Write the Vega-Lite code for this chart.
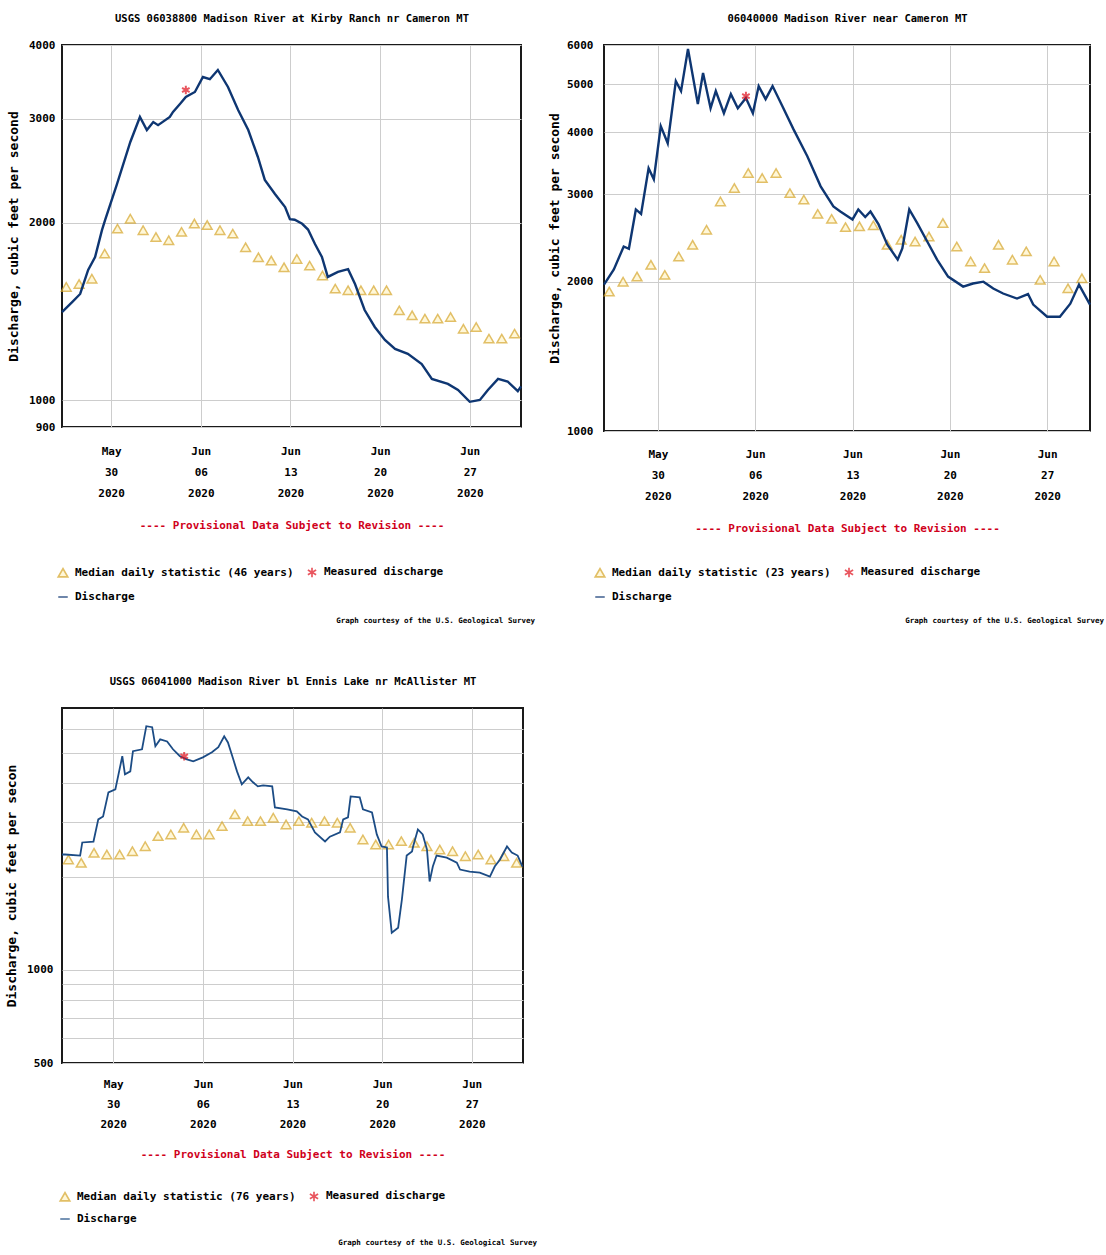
{
"$schema": "https://vega.github.io/schema/vega-lite/v6.json",
"background": "white",
"padding": {"left": 4, "top": 12, "right": 4, "bottom": 4},
"config": {
  "font": "DejaVu Sans Mono",
  "view": {"stroke": "#1a1a1a", "strokeWidth": 2},
  "axis": {"labelFont": "DejaVu Sans Mono", "labelFontWeight": "bold", "labelFontSize": 11, "labelColor": "black", "titleFont": "DejaVu Sans Mono", "titleFontWeight": "bold", "titleColor": "black", "ticks": false, "domain": false, "gridColor": "#cdcdcd", "gridWidth": 1},
  "legend": {"labelFont": "DejaVu Sans Mono", "labelFontWeight": "bold", "labelFontSize": 11, "labelColor": "black", "labelLimit": 400}
},
"resolve": {"scale": {"color": "independent", "shape": "independent"}, "legend": {"color": "independent", "shape": "independent"}},
"datasets": {
  "p1": [
    {"date": "2020-05-26T04:00", "value": 1410, "series": "Discharge"},
    {"date": "2020-05-26T23:00", "value": 1466, "series": "Discharge"},
    {"date": "2020-05-27T14:00", "value": 1513, "series": "Discharge"},
    {"date": "2020-05-28T05:00", "value": 1662, "series": "Discharge"},
    {"date": "2020-05-28T18:00", "value": 1748, "series": "Discharge"},
    {"date": "2020-05-29T07:00", "value": 1943, "series": "Discharge"},
    {"date": "2020-05-29T13:00", "value": 2022, "series": "Discharge"},
    {"date": "2020-05-30T11:00", "value": 2324, "series": "Discharge"},
    {"date": "2020-05-31T12:00", "value": 2739, "series": "Discharge"},
    {"date": "2020-06-01T06:00", "value": 3020, "series": "Discharge"},
    {"date": "2020-06-01T19:00", "value": 2870, "series": "Discharge"},
    {"date": "2020-06-02T07:00", "value": 2960, "series": "Discharge"},
    {"date": "2020-06-02T16:00", "value": 2925, "series": "Discharge"},
    {"date": "2020-06-03T14:00", "value": 3020, "series": "Discharge"},
    {"date": "2020-06-03T20:00", "value": 3080, "series": "Discharge"},
    {"date": "2020-06-04T09:00", "value": 3177, "series": "Discharge"},
    {"date": "2020-06-04T20:00", "value": 3265, "series": "Discharge"},
    {"date": "2020-06-05T13:00", "value": 3330, "series": "Discharge"},
    {"date": "2020-06-06T04:00", "value": 3530, "series": "Discharge"},
    {"date": "2020-06-06T17:00", "value": 3500, "series": "Discharge"},
    {"date": "2020-06-07T08:00", "value": 3628, "series": "Discharge"},
    {"date": "2020-06-08T03:00", "value": 3395, "series": "Discharge"},
    {"date": "2020-06-08T22:00", "value": 3103, "series": "Discharge"},
    {"date": "2020-06-09T17:00", "value": 2870, "series": "Discharge"},
    {"date": "2020-06-10T11:00", "value": 2583, "series": "Discharge"},
    {"date": "2020-06-11T00:00", "value": 2362, "series": "Discharge"},
    {"date": "2020-06-11T19:00", "value": 2236, "series": "Discharge"},
    {"date": "2020-06-12T14:00", "value": 2125, "series": "Discharge"},
    {"date": "2020-06-12T23:00", "value": 2027, "series": "Discharge"},
    {"date": "2020-06-13T08:00", "value": 2022, "series": "Discharge"},
    {"date": "2020-06-13T22:00", "value": 1990, "series": "Discharge"},
    {"date": "2020-06-14T09:00", "value": 1946, "series": "Discharge"},
    {"date": "2020-06-14T22:00", "value": 1839, "series": "Discharge"},
    {"date": "2020-06-15T11:00", "value": 1748, "series": "Discharge"},
    {"date": "2020-06-15T22:00", "value": 1617, "series": "Discharge"},
    {"date": "2020-06-16T17:00", "value": 1649, "series": "Discharge"},
    {"date": "2020-06-17T12:00", "value": 1667, "series": "Discharge"},
    {"date": "2020-06-18T01:00", "value": 1573, "series": "Discharge"},
    {"date": "2020-06-18T19:00", "value": 1421, "series": "Discharge"},
    {"date": "2020-06-19T14:00", "value": 1330, "series": "Discharge"},
    {"date": "2020-06-20T09:00", "value": 1264, "series": "Discharge"},
    {"date": "2020-06-21T04:00", "value": 1221, "series": "Discharge"},
    {"date": "2020-06-22T04:00", "value": 1198, "series": "Discharge"},
    {"date": "2020-06-23T06:00", "value": 1151, "series": "Discharge"},
    {"date": "2020-06-24T01:00", "value": 1086, "series": "Discharge"},
    {"date": "2020-06-25T07:00", "value": 1065, "series": "Discharge"},
    {"date": "2020-06-26T02:00", "value": 1040, "series": "Discharge"},
    {"date": "2020-06-27T00:00", "value": 993, "series": "Discharge"},
    {"date": "2020-06-27T19:00", "value": 1000, "series": "Discharge"},
    {"date": "2020-06-28T10:00", "value": 1040, "series": "Discharge"},
    {"date": "2020-06-29T05:00", "value": 1086, "series": "Discharge"},
    {"date": "2020-06-29T23:00", "value": 1075, "series": "Discharge"},
    {"date": "2020-06-30T18:00", "value": 1035, "series": "Discharge"},
    {"date": "2020-07-01T00:00", "value": 1055, "series": "Discharge"},
    {"date": "2020-06-04T20:00", "value": 3356, "series": "Measured discharge"},
    {"date": "2020-05-26T12:00", "value": 1555, "series": "Median daily statistic (46 years)"},
    {"date": "2020-05-27T12:00", "value": 1573, "series": "Median daily statistic (46 years)"},
    {"date": "2020-05-28T12:00", "value": 1606, "series": "Median daily statistic (46 years)"},
    {"date": "2020-05-29T12:00", "value": 1771, "series": "Median daily statistic (46 years)"},
    {"date": "2020-05-30T12:00", "value": 1953, "series": "Median daily statistic (46 years)"},
    {"date": "2020-05-31T12:00", "value": 2030, "series": "Median daily statistic (46 years)"},
    {"date": "2020-06-01T12:00", "value": 1941, "series": "Median daily statistic (46 years)"},
    {"date": "2020-06-02T12:00", "value": 1890, "series": "Median daily statistic (46 years)"},
    {"date": "2020-06-03T12:00", "value": 1866, "series": "Median daily statistic (46 years)"},
    {"date": "2020-06-04T12:00", "value": 1928, "series": "Median daily statistic (46 years)"},
    {"date": "2020-06-05T12:00", "value": 1992, "series": "Median daily statistic (46 years)"},
    {"date": "2020-06-06T12:00", "value": 1980, "series": "Median daily statistic (46 years)"},
    {"date": "2020-06-07T12:00", "value": 1941, "series": "Median daily statistic (46 years)"},
    {"date": "2020-06-08T12:00", "value": 1915, "series": "Median daily statistic (46 years)"},
    {"date": "2020-06-09T12:00", "value": 1816, "series": "Median daily statistic (46 years)"},
    {"date": "2020-06-10T12:00", "value": 1746, "series": "Median daily statistic (46 years)"},
    {"date": "2020-06-11T12:00", "value": 1724, "series": "Median daily statistic (46 years)"},
    {"date": "2020-06-12T12:00", "value": 1679, "series": "Median daily statistic (46 years)"},
    {"date": "2020-06-13T12:00", "value": 1735, "series": "Median daily statistic (46 years)"},
    {"date": "2020-06-14T12:00", "value": 1690, "series": "Median daily statistic (46 years)"},
    {"date": "2020-06-15T12:00", "value": 1626, "series": "Median daily statistic (46 years)"},
    {"date": "2020-06-16T12:00", "value": 1545, "series": "Median daily statistic (46 years)"},
    {"date": "2020-06-17T12:00", "value": 1535, "series": "Median daily statistic (46 years)"},
    {"date": "2020-06-18T12:00", "value": 1535, "series": "Median daily statistic (46 years)"},
    {"date": "2020-06-19T12:00", "value": 1535, "series": "Median daily statistic (46 years)"},
    {"date": "2020-06-20T12:00", "value": 1535, "series": "Median daily statistic (46 years)"},
    {"date": "2020-06-21T12:00", "value": 1419, "series": "Median daily statistic (46 years)"},
    {"date": "2020-06-22T12:00", "value": 1392, "series": "Median daily statistic (46 years)"},
    {"date": "2020-06-23T12:00", "value": 1374, "series": "Median daily statistic (46 years)"},
    {"date": "2020-06-24T12:00", "value": 1374, "series": "Median daily statistic (46 years)"},
    {"date": "2020-06-25T12:00", "value": 1383, "series": "Median daily statistic (46 years)"},
    {"date": "2020-06-26T12:00", "value": 1321, "series": "Median daily statistic (46 years)"},
    {"date": "2020-06-27T12:00", "value": 1330, "series": "Median daily statistic (46 years)"},
    {"date": "2020-06-28T12:00", "value": 1271, "series": "Median daily statistic (46 years)"},
    {"date": "2020-06-29T12:00", "value": 1271, "series": "Median daily statistic (46 years)"},
    {"date": "2020-06-30T12:00", "value": 1296, "series": "Median daily statistic (46 years)"}
  ],
  "p2": [
    {"date": "2020-05-26T03:00", "value": 1973, "series": "Discharge"},
    {"date": "2020-05-26T20:00", "value": 2116, "series": "Discharge"},
    {"date": "2020-05-27T13:00", "value": 2355, "series": "Discharge"},
    {"date": "2020-05-27T22:00", "value": 2330, "series": "Discharge"},
    {"date": "2020-05-28T10:00", "value": 2797, "series": "Discharge"},
    {"date": "2020-05-28T19:00", "value": 2740, "series": "Discharge"},
    {"date": "2020-05-29T08:00", "value": 3385, "series": "Discharge"},
    {"date": "2020-05-29T17:00", "value": 3217, "series": "Discharge"},
    {"date": "2020-05-30T05:00", "value": 4117, "series": "Discharge"},
    {"date": "2020-05-30T17:00", "value": 3803, "series": "Discharge"},
    {"date": "2020-05-31T07:00", "value": 5075, "series": "Discharge"},
    {"date": "2020-05-31T16:00", "value": 4844, "series": "Discharge"},
    {"date": "2020-06-01T04:00", "value": 5890, "series": "Discharge"},
    {"date": "2020-06-01T21:00", "value": 4560, "series": "Discharge"},
    {"date": "2020-06-02T06:00", "value": 5268, "series": "Discharge"},
    {"date": "2020-06-02T19:00", "value": 4475, "series": "Discharge"},
    {"date": "2020-06-03T04:00", "value": 4844, "series": "Discharge"},
    {"date": "2020-06-03T18:00", "value": 4372, "series": "Discharge"},
    {"date": "2020-06-04T06:00", "value": 4777, "series": "Discharge"},
    {"date": "2020-06-04T18:00", "value": 4475, "series": "Discharge"},
    {"date": "2020-06-05T08:00", "value": 4689, "series": "Discharge"},
    {"date": "2020-06-05T20:00", "value": 4372, "series": "Discharge"},
    {"date": "2020-06-06T06:00", "value": 4958, "series": "Discharge"},
    {"date": "2020-06-06T18:00", "value": 4666, "series": "Discharge"},
    {"date": "2020-06-07T06:00", "value": 4958, "series": "Discharge"},
    {"date": "2020-06-07T23:00", "value": 4517, "series": "Discharge"},
    {"date": "2020-06-08T18:00", "value": 4060, "series": "Discharge"},
    {"date": "2020-06-09T18:00", "value": 3580, "series": "Discharge"},
    {"date": "2020-06-10T17:00", "value": 3113, "series": "Discharge"},
    {"date": "2020-06-11T15:00", "value": 2836, "series": "Discharge"},
    {"date": "2020-06-12T03:00", "value": 2770, "series": "Discharge"},
    {"date": "2020-06-13T00:00", "value": 2670, "series": "Discharge"},
    {"date": "2020-06-13T10:00", "value": 2797, "series": "Discharge"},
    {"date": "2020-06-13T22:00", "value": 2700, "series": "Discharge"},
    {"date": "2020-06-14T07:00", "value": 2770, "series": "Discharge"},
    {"date": "2020-06-14T21:00", "value": 2609, "series": "Discharge"},
    {"date": "2020-06-15T12:00", "value": 2377, "series": "Discharge"},
    {"date": "2020-06-16T06:00", "value": 2216, "series": "Discharge"},
    {"date": "2020-06-16T14:00", "value": 2333, "series": "Discharge"},
    {"date": "2020-06-17T02:00", "value": 2797, "series": "Discharge"},
    {"date": "2020-06-17T16:00", "value": 2621, "series": "Discharge"},
    {"date": "2020-06-18T09:00", "value": 2410, "series": "Discharge"},
    {"date": "2020-06-19T02:00", "value": 2216, "series": "Discharge"},
    {"date": "2020-06-19T21:00", "value": 2048, "series": "Discharge"},
    {"date": "2020-06-20T23:00", "value": 1955, "series": "Discharge"},
    {"date": "2020-06-21T16:00", "value": 1983, "series": "Discharge"},
    {"date": "2020-06-22T10:00", "value": 2000, "series": "Discharge"},
    {"date": "2020-06-23T03:00", "value": 1937, "series": "Discharge"},
    {"date": "2020-06-23T20:00", "value": 1893, "series": "Discharge"},
    {"date": "2020-06-24T20:00", "value": 1849, "series": "Discharge"},
    {"date": "2020-06-25T15:00", "value": 1888, "series": "Discharge"},
    {"date": "2020-06-26T00:00", "value": 1798, "series": "Discharge"},
    {"date": "2020-06-27T00:00", "value": 1700, "series": "Discharge"},
    {"date": "2020-06-27T22:00", "value": 1700, "series": "Discharge"},
    {"date": "2020-06-28T16:00", "value": 1806, "series": "Discharge"},
    {"date": "2020-06-29T07:00", "value": 1973, "series": "Discharge"},
    {"date": "2020-06-30T02:00", "value": 1798, "series": "Discharge"},
    {"date": "2020-06-05T08:00", "value": 4732, "series": "Measured discharge"},
    {"date": "2020-05-26T12:00", "value": 1910, "series": "Median daily statistic (23 years)"},
    {"date": "2020-05-27T12:00", "value": 2000, "series": "Median daily statistic (23 years)"},
    {"date": "2020-05-28T12:00", "value": 2048, "series": "Median daily statistic (23 years)"},
    {"date": "2020-05-29T12:00", "value": 2163, "series": "Median daily statistic (23 years)"},
    {"date": "2020-05-30T12:00", "value": 2064, "series": "Median daily statistic (23 years)"},
    {"date": "2020-05-31T12:00", "value": 2247, "series": "Median daily statistic (23 years)"},
    {"date": "2020-06-01T12:00", "value": 2373, "series": "Median daily statistic (23 years)"},
    {"date": "2020-06-02T12:00", "value": 2545, "series": "Median daily statistic (23 years)"},
    {"date": "2020-06-03T12:00", "value": 2903, "series": "Median daily statistic (23 years)"},
    {"date": "2020-06-04T12:00", "value": 3089, "series": "Median daily statistic (23 years)"},
    {"date": "2020-06-05T12:00", "value": 3312, "series": "Median daily statistic (23 years)"},
    {"date": "2020-06-06T12:00", "value": 3236, "series": "Median daily statistic (23 years)"},
    {"date": "2020-06-07T12:00", "value": 3312, "series": "Median daily statistic (23 years)"},
    {"date": "2020-06-08T12:00", "value": 3017, "series": "Median daily statistic (23 years)"},
    {"date": "2020-06-09T12:00", "value": 2927, "series": "Median daily statistic (23 years)"},
    {"date": "2020-06-10T12:00", "value": 2740, "series": "Median daily statistic (23 years)"},
    {"date": "2020-06-11T12:00", "value": 2677, "series": "Median daily statistic (23 years)"},
    {"date": "2020-06-12T12:00", "value": 2576, "series": "Median daily statistic (23 years)"},
    {"date": "2020-06-13T12:00", "value": 2586, "series": "Median daily statistic (23 years)"},
    {"date": "2020-06-14T12:00", "value": 2597, "series": "Median daily statistic (23 years)"},
    {"date": "2020-06-15T12:00", "value": 2373, "series": "Median daily statistic (23 years)"},
    {"date": "2020-06-16T12:00", "value": 2429, "series": "Median daily statistic (23 years)"},
    {"date": "2020-06-17T12:00", "value": 2410, "series": "Median daily statistic (23 years)"},
    {"date": "2020-06-18T12:00", "value": 2466, "series": "Median daily statistic (23 years)"},
    {"date": "2020-06-19T12:00", "value": 2625, "series": "Median daily statistic (23 years)"},
    {"date": "2020-06-20T12:00", "value": 2355, "series": "Median daily statistic (23 years)"},
    {"date": "2020-06-21T12:00", "value": 2197, "series": "Median daily statistic (23 years)"},
    {"date": "2020-06-22T12:00", "value": 2130, "series": "Median daily statistic (23 years)"},
    {"date": "2020-06-23T12:00", "value": 2373, "series": "Median daily statistic (23 years)"},
    {"date": "2020-06-24T12:00", "value": 2215, "series": "Median daily statistic (23 years)"},
    {"date": "2020-06-25T12:00", "value": 2302, "series": "Median daily statistic (23 years)"},
    {"date": "2020-06-26T12:00", "value": 2017, "series": "Median daily statistic (23 years)"},
    {"date": "2020-06-27T12:00", "value": 2197, "series": "Median daily statistic (23 years)"},
    {"date": "2020-06-28T12:00", "value": 1940, "series": "Median daily statistic (23 years)"},
    {"date": "2020-06-29T12:00", "value": 2032, "series": "Median daily statistic (23 years)"}
  ],
  "p3": [
    {"date": "2020-05-26T00:00", "value": 2356, "series": "Discharge"},
    {"date": "2020-05-26T06:00", "value": 2356, "series": "Discharge"},
    {"date": "2020-05-27T10:00", "value": 2337, "series": "Discharge"},
    {"date": "2020-05-27T14:00", "value": 2576, "series": "Discharge"},
    {"date": "2020-05-28T11:00", "value": 2594, "series": "Discharge"},
    {"date": "2020-05-28T20:00", "value": 3058, "series": "Discharge"},
    {"date": "2020-05-29T05:00", "value": 3125, "series": "Discharge"},
    {"date": "2020-05-29T15:00", "value": 3739, "series": "Discharge"},
    {"date": "2020-05-30T04:00", "value": 3823, "series": "Discharge"},
    {"date": "2020-05-30T17:00", "value": 4890, "series": "Discharge"},
    {"date": "2020-05-30T22:00", "value": 4276, "series": "Discharge"},
    {"date": "2020-05-31T08:00", "value": 4370, "series": "Discharge"},
    {"date": "2020-05-31T13:00", "value": 5076, "series": "Discharge"},
    {"date": "2020-06-01T06:00", "value": 5150, "series": "Discharge"},
    {"date": "2020-06-01T14:00", "value": 6114, "series": "Discharge"},
    {"date": "2020-06-02T01:00", "value": 6070, "series": "Discharge"},
    {"date": "2020-06-02T07:00", "value": 5270, "series": "Discharge"},
    {"date": "2020-06-02T16:00", "value": 5544, "series": "Discharge"},
    {"date": "2020-06-03T05:00", "value": 5460, "series": "Discharge"},
    {"date": "2020-06-03T16:00", "value": 5150, "series": "Discharge"},
    {"date": "2020-06-04T05:00", "value": 4890, "series": "Discharge"},
    {"date": "2020-06-04T18:00", "value": 4780, "series": "Discharge"},
    {"date": "2020-06-05T06:00", "value": 4710, "series": "Discharge"},
    {"date": "2020-06-06T00:00", "value": 4850, "series": "Discharge"},
    {"date": "2020-06-06T17:00", "value": 5035, "series": "Discharge"},
    {"date": "2020-06-07T05:00", "value": 5230, "series": "Discharge"},
    {"date": "2020-06-07T16:00", "value": 5675, "series": "Discharge"},
    {"date": "2020-06-07T23:00", "value": 5420, "series": "Discharge"},
    {"date": "2020-06-08T09:00", "value": 4780, "series": "Discharge"},
    {"date": "2020-06-08T16:00", "value": 4370, "series": "Discharge"},
    {"date": "2020-06-09T01:00", "value": 3970, "series": "Discharge"},
    {"date": "2020-06-09T13:00", "value": 4180, "series": "Discharge"},
    {"date": "2020-06-09T22:00", "value": 4030, "series": "Discharge"},
    {"date": "2020-06-10T07:00", "value": 3910, "series": "Discharge"},
    {"date": "2020-06-10T17:00", "value": 3940, "series": "Discharge"},
    {"date": "2020-06-11T10:00", "value": 3910, "series": "Discharge"},
    {"date": "2020-06-11T15:00", "value": 3344, "series": "Discharge"},
    {"date": "2020-06-12T14:00", "value": 3296, "series": "Discharge"},
    {"date": "2020-06-13T08:00", "value": 3247, "series": "Discharge"},
    {"date": "2020-06-13T18:00", "value": 3125, "series": "Discharge"},
    {"date": "2020-06-14T05:00", "value": 3058, "series": "Discharge"},
    {"date": "2020-06-14T18:00", "value": 2776, "series": "Discharge"},
    {"date": "2020-06-15T13:00", "value": 2596, "series": "Discharge"},
    {"date": "2020-06-15T22:00", "value": 2690, "series": "Discharge"},
    {"date": "2020-06-16T17:00", "value": 2776, "series": "Discharge"},
    {"date": "2020-06-16T23:00", "value": 3058, "series": "Discharge"},
    {"date": "2020-06-17T08:00", "value": 3106, "series": "Discharge"},
    {"date": "2020-06-17T13:00", "value": 3629, "series": "Discharge"},
    {"date": "2020-06-18T06:00", "value": 3602, "series": "Discharge"},
    {"date": "2020-06-18T12:00", "value": 3296, "series": "Discharge"},
    {"date": "2020-06-19T05:00", "value": 3219, "series": "Discharge"},
    {"date": "2020-06-19T14:00", "value": 2735, "series": "Discharge"},
    {"date": "2020-06-19T23:00", "value": 2500, "series": "Discharge"},
    {"date": "2020-06-20T09:00", "value": 2482, "series": "Discharge"},
    {"date": "2020-06-20T11:00", "value": 1722, "series": "Discharge"},
    {"date": "2020-06-20T18:00", "value": 1317, "series": "Discharge"},
    {"date": "2020-06-21T06:00", "value": 1367, "series": "Discharge"},
    {"date": "2020-06-21T13:00", "value": 1685, "series": "Discharge"},
    {"date": "2020-06-21T22:00", "value": 2337, "series": "Discharge"},
    {"date": "2020-06-22T08:00", "value": 2410, "series": "Discharge"},
    {"date": "2020-06-22T10:00", "value": 2500, "series": "Discharge"},
    {"date": "2020-06-22T19:00", "value": 2838, "series": "Discharge"},
    {"date": "2020-06-23T04:00", "value": 2735, "series": "Discharge"},
    {"date": "2020-06-23T12:00", "value": 2445, "series": "Discharge"},
    {"date": "2020-06-23T17:00", "value": 1927, "series": "Discharge"},
    {"date": "2020-06-23T23:00", "value": 2154, "series": "Discharge"},
    {"date": "2020-06-24T06:00", "value": 2337, "series": "Discharge"},
    {"date": "2020-06-25T01:00", "value": 2300, "series": "Discharge"},
    {"date": "2020-06-25T20:00", "value": 2217, "series": "Discharge"},
    {"date": "2020-06-26T02:00", "value": 2106, "series": "Discharge"},
    {"date": "2020-06-26T20:00", "value": 2075, "series": "Discharge"},
    {"date": "2020-06-27T15:00", "value": 2060, "series": "Discharge"},
    {"date": "2020-06-28T10:00", "value": 2000, "series": "Discharge"},
    {"date": "2020-06-28T19:00", "value": 2154, "series": "Discharge"},
    {"date": "2020-06-29T05:00", "value": 2270, "series": "Discharge"},
    {"date": "2020-06-29T18:00", "value": 2500, "series": "Discharge"},
    {"date": "2020-06-30T03:00", "value": 2390, "series": "Discharge"},
    {"date": "2020-06-30T14:00", "value": 2337, "series": "Discharge"},
    {"date": "2020-06-30T23:00", "value": 2154, "series": "Discharge"},
    {"date": "2020-06-04T13:00", "value": 4890, "series": "Measured discharge"},
    {"date": "2020-05-26T12:00", "value": 2270, "series": "Median daily statistic (76 years)"},
    {"date": "2020-05-27T12:00", "value": 2214, "series": "Median daily statistic (76 years)"},
    {"date": "2020-05-28T12:00", "value": 2386, "series": "Median daily statistic (76 years)"},
    {"date": "2020-05-29T12:00", "value": 2356, "series": "Median daily statistic (76 years)"},
    {"date": "2020-05-30T12:00", "value": 2356, "series": "Median daily statistic (76 years)"},
    {"date": "2020-05-31T12:00", "value": 2415, "series": "Median daily statistic (76 years)"},
    {"date": "2020-06-01T12:00", "value": 2506, "series": "Median daily statistic (76 years)"},
    {"date": "2020-06-02T12:00", "value": 2701, "series": "Median daily statistic (76 years)"},
    {"date": "2020-06-03T12:00", "value": 2735, "series": "Median daily statistic (76 years)"},
    {"date": "2020-06-04T12:00", "value": 2874, "series": "Median daily statistic (76 years)"},
    {"date": "2020-06-05T12:00", "value": 2735, "series": "Median daily statistic (76 years)"},
    {"date": "2020-06-06T12:00", "value": 2735, "series": "Median daily statistic (76 years)"},
    {"date": "2020-06-07T12:00", "value": 2909, "series": "Median daily statistic (76 years)"},
    {"date": "2020-06-08T12:00", "value": 3174, "series": "Median daily statistic (76 years)"},
    {"date": "2020-06-09T12:00", "value": 3019, "series": "Median daily statistic (76 years)"},
    {"date": "2020-06-10T12:00", "value": 3019, "series": "Median daily statistic (76 years)"},
    {"date": "2020-06-11T12:00", "value": 3097, "series": "Median daily statistic (76 years)"},
    {"date": "2020-06-12T12:00", "value": 2946, "series": "Median daily statistic (76 years)"},
    {"date": "2020-06-13T12:00", "value": 3019, "series": "Median daily statistic (76 years)"},
    {"date": "2020-06-14T12:00", "value": 2984, "series": "Median daily statistic (76 years)"},
    {"date": "2020-06-15T12:00", "value": 3019, "series": "Median daily statistic (76 years)"},
    {"date": "2020-06-16T12:00", "value": 2984, "series": "Median daily statistic (76 years)"},
    {"date": "2020-06-17T12:00", "value": 2874, "series": "Median daily statistic (76 years)"},
    {"date": "2020-06-18T12:00", "value": 2635, "series": "Median daily statistic (76 years)"},
    {"date": "2020-06-19T12:00", "value": 2538, "series": "Median daily statistic (76 years)"},
    {"date": "2020-06-20T12:00", "value": 2538, "series": "Median daily statistic (76 years)"},
    {"date": "2020-06-21T12:00", "value": 2602, "series": "Median daily statistic (76 years)"},
    {"date": "2020-06-22T12:00", "value": 2570, "series": "Median daily statistic (76 years)"},
    {"date": "2020-06-23T12:00", "value": 2506, "series": "Median daily statistic (76 years)"},
    {"date": "2020-06-24T12:00", "value": 2445, "series": "Median daily statistic (76 years)"},
    {"date": "2020-06-25T12:00", "value": 2415, "series": "Median daily statistic (76 years)"},
    {"date": "2020-06-26T12:00", "value": 2326, "series": "Median daily statistic (76 years)"},
    {"date": "2020-06-27T12:00", "value": 2356, "series": "Median daily statistic (76 years)"},
    {"date": "2020-06-28T12:00", "value": 2270, "series": "Median daily statistic (76 years)"},
    {"date": "2020-06-29T12:00", "value": 2326, "series": "Median daily statistic (76 years)"},
    {"date": "2020-06-30T12:00", "value": 2214, "series": "Median daily statistic (76 years)"}
  ]
},
"columns": 2,
"bounds": "flush",
"spacing": {"row": 277, "column": 81},
"concat": [
  {
    "width": 459, "height": 382,
    "data": {"name": "p1"},
    "title": {"text": "Graph courtesy of the U.S. Geological Survey", "orient": "bottom", "anchor": "end", "frame": "group", "font": "DejaVu Sans Mono", "fontSize": 7.5, "fontWeight": "bold", "color": "black", "offset": 15, "dx": 14},
    "layer": [
      {
        "transform": [{"filter": "datum.series == 'Median daily statistic (46 years)'"}],
        "mark": {"type": "point", "filled": false, "fill": "#fff4c8", "size": 95, "strokeWidth": 1.5},
        "encoding": {
          "x": {"field": "date", "type": "temporal", "scale": {"domain": [{"year": 2020, "month": 5, "date": 26, "hours": 4}, {"year": 2020, "month": 7, "date": 1}]}, "axis": {"orient": "top", "title": "USGS 06038800 Madison River at Kirby Ranch nr Cameron MT", "titleFontSize": 10.5, "titlePadding": 22, "labels": false, "grid": false}},
          "y": {"field": "value", "type": "quantitative", "scale": {"type": "log", "domain": [900, 4000], "nice": false}, "axis": {"values": [900, 1000, 2000, 3000, 4000], "format": "d", "labelPadding": 7, "title": "Discharge, cubic feet per second", "titleFontSize": 13, "titlePadding": 8, "grid": true}},
          "color": {"field": "series", "type": "nominal", "scale": {"domain": ["Median daily statistic (46 years)", "Measured discharge", "Discharge"], "range": ["#d6a526", "#e0101c", "#0e3672"]}, "legend": {"title": null, "orient": "none", "legendX": -5, "legendY": 521, "columns": 2, "columnPadding": 10, "rowPadding": 10, "symbolSize": 90, "symbolStrokeWidth": 1.7, "labelOffset": 6, "values": ["Median daily statistic (46 years)", "Discharge", "Measured discharge"]}},
          "shape": {"field": "series", "type": "nominal", "scale": {"domain": ["Median daily statistic (46 years)", "Measured discharge", "Discharge"], "range": ["triangle-up", "M0,-1L0,1M-0.87,-0.5L0.87,0.5M-0.87,0.5L0.87,-0.5", "stroke"]}}
        }
      },
      {
        "transform": [{"filter": "datum.series == 'Discharge'"}],
        "mark": {"type": "line", "strokeWidth": 2.4},
        "encoding": {
          "x": {"field": "date", "type": "temporal", "scale": {"domain": [{"year": 2020, "month": 5, "date": 26, "hours": 4}, {"year": 2020, "month": 7, "date": 1}]}, "axis": {"orient": "bottom", "values": [{"year": 2020, "month": 5, "date": 30}, {"year": 2020, "month": 6, "date": 6}, {"year": 2020, "month": 6, "date": 13}, {"year": 2020, "month": 6, "date": 20}, {"year": 2020, "month": 6, "date": 27}], "labelExpr": "[timeFormat(datum.value, '%b'), timeFormat(datum.value, '%d'), timeFormat(datum.value, '%Y')]", "labelLineHeight": 21, "labelPadding": 18, "labelOverlap": false, "labelAlign": "center", "title": "---- Provisional Data Subject to Revision ----", "titleColor": "#d0001b", "titleFontSize": 11, "titlePadding": 21, "grid": true}},
          "y": {"field": "value", "type": "quantitative", "scale": {"type": "log", "domain": [900, 4000], "nice": false}, "axis": {"values": [900, 1000, 2000, 3000, 4000], "format": "d", "labelPadding": 7, "title": "Discharge, cubic feet per second", "titleFontSize": 13, "titlePadding": 8, "grid": true}},
          "color": {"field": "series", "type": "nominal", "scale": {"domain": ["Median daily statistic (46 years)", "Measured discharge", "Discharge"], "range": ["#d6a526", "#e0101c", "#0e3672"]}}
        }
      },
      {
        "transform": [{"filter": "datum.series == 'Measured discharge'"}],
        "mark": {"type": "point", "filled": false, "size": 75, "strokeWidth": 2},
        "encoding": {
          "x": {"field": "date", "type": "temporal", "scale": {"domain": [{"year": 2020, "month": 5, "date": 26, "hours": 4}, {"year": 2020, "month": 7, "date": 1}]}, "axis": null},
          "y": {"field": "value", "type": "quantitative", "scale": {"type": "log", "domain": [900, 4000], "nice": false}, "axis": {"values": [900, 1000, 2000, 3000, 4000], "format": "d", "labelPadding": 7, "title": "Discharge, cubic feet per second", "titleFontSize": 13, "titlePadding": 8, "grid": true}},
          "color": {"field": "series", "type": "nominal", "scale": {"domain": ["Median daily statistic (46 years)", "Measured discharge", "Discharge"], "range": ["#d6a526", "#e0101c", "#0e3672"]}},
          "shape": {"field": "series", "type": "nominal", "scale": {"domain": ["Median daily statistic (46 years)", "Measured discharge", "Discharge"], "range": ["triangle-up", "M0,-1L0,1M-0.87,-0.5L0.87,0.5M-0.87,0.5L0.87,-0.5", "stroke"]}}
        }
      }
    ],
    "resolve": {"axis": {"x": "independent"}}
  },
  {
    "width": 486, "height": 386,
    "data": {"name": "p2"},
    "title": {"text": "Graph courtesy of the U.S. Geological Survey", "orient": "bottom", "anchor": "end", "frame": "group", "font": "DejaVu Sans Mono", "fontSize": 7.5, "fontWeight": "bold", "color": "black", "offset": 15, "dx": 14},
    "layer": [
      {
        "transform": [{"filter": "datum.series == 'Median daily statistic (23 years)'"}],
        "mark": {"type": "point", "filled": false, "fill": "#fff4c8", "size": 95, "strokeWidth": 1.5},
        "encoding": {
          "x": {"field": "date", "type": "temporal", "scale": {"domain": [{"year": 2020, "month": 5, "date": 26, "hours": 3}, {"year": 2020, "month": 6, "date": 30, "hours": 2}]}, "axis": {"orient": "top", "title": "06040000 Madison River near Cameron MT", "titleFontSize": 10.5, "titlePadding": 22, "labels": false, "grid": false}},
          "y": {"field": "value", "type": "quantitative", "scale": {"type": "log", "domain": [1000, 6000], "nice": false}, "axis": {"values": [1000, 2000, 3000, 4000, 5000, 6000], "format": "d", "labelPadding": 11, "title": "Discharge, cubic feet per second", "titleFontSize": 13, "titlePadding": 5, "grid": true}},
          "color": {"field": "series", "type": "nominal", "scale": {"domain": ["Median daily statistic (23 years)", "Measured discharge", "Discharge"], "range": ["#d6a526", "#e0101c", "#0e3672"]}, "legend": {"title": null, "orient": "none", "legendX": -10, "legendY": 521, "columns": 2, "columnPadding": 10, "rowPadding": 10, "symbolSize": 90, "symbolStrokeWidth": 1.7, "labelOffset": 6, "values": ["Median daily statistic (23 years)", "Discharge", "Measured discharge"]}},
          "shape": {"field": "series", "type": "nominal", "scale": {"domain": ["Median daily statistic (23 years)", "Measured discharge", "Discharge"], "range": ["triangle-up", "M0,-1L0,1M-0.87,-0.5L0.87,0.5M-0.87,0.5L0.87,-0.5", "stroke"]}}
        }
      },
      {
        "transform": [{"filter": "datum.series == 'Discharge'"}],
        "mark": {"type": "line", "strokeWidth": 2.4},
        "encoding": {
          "x": {"field": "date", "type": "temporal", "scale": {"domain": [{"year": 2020, "month": 5, "date": 26, "hours": 3}, {"year": 2020, "month": 6, "date": 30, "hours": 2}]}, "axis": {"orient": "bottom", "values": [{"year": 2020, "month": 5, "date": 30}, {"year": 2020, "month": 6, "date": 6}, {"year": 2020, "month": 6, "date": 13}, {"year": 2020, "month": 6, "date": 20}, {"year": 2020, "month": 6, "date": 27}], "labelExpr": "[timeFormat(datum.value, '%b'), timeFormat(datum.value, '%d'), timeFormat(datum.value, '%Y')]", "labelLineHeight": 21, "labelPadding": 17, "labelOverlap": false, "labelAlign": "center", "title": "---- Provisional Data Subject to Revision ----", "titleColor": "#d0001b", "titleFontSize": 11, "titlePadding": 21, "grid": true}},
          "y": {"field": "value", "type": "quantitative", "scale": {"type": "log", "domain": [1000, 6000], "nice": false}, "axis": {"values": [1000, 2000, 3000, 4000, 5000, 6000], "format": "d", "labelPadding": 11, "title": "Discharge, cubic feet per second", "titleFontSize": 13, "titlePadding": 5, "grid": true}},
          "color": {"field": "series", "type": "nominal", "scale": {"domain": ["Median daily statistic (23 years)", "Measured discharge", "Discharge"], "range": ["#d6a526", "#e0101c", "#0e3672"]}}
        }
      },
      {
        "transform": [{"filter": "datum.series == 'Measured discharge'"}],
        "mark": {"type": "point", "filled": false, "size": 75, "strokeWidth": 2},
        "encoding": {
          "x": {"field": "date", "type": "temporal", "scale": {"domain": [{"year": 2020, "month": 5, "date": 26, "hours": 3}, {"year": 2020, "month": 6, "date": 30, "hours": 2}]}, "axis": null},
          "y": {"field": "value", "type": "quantitative", "scale": {"type": "log", "domain": [1000, 6000], "nice": false}, "axis": {"values": [1000, 2000, 3000, 4000, 5000, 6000], "format": "d", "labelPadding": 11, "title": "Discharge, cubic feet per second", "titleFontSize": 13, "titlePadding": 5, "grid": true}},
          "color": {"field": "series", "type": "nominal", "scale": {"domain": ["Median daily statistic (23 years)", "Measured discharge", "Discharge"], "range": ["#d6a526", "#e0101c", "#0e3672"]}},
          "shape": {"field": "series", "type": "nominal", "scale": {"domain": ["Median daily statistic (23 years)", "Measured discharge", "Discharge"], "range": ["triangle-up", "M0,-1L0,1M-0.87,-0.5L0.87,0.5M-0.87,0.5L0.87,-0.5", "stroke"]}}
        }
      }
    ],
    "resolve": {"axis": {"x": "independent"}}
  },
  {
    "width": 461, "height": 355,
    "data": {"name": "p3"},
    "title": {"text": "Graph courtesy of the U.S. Geological Survey", "orient": "bottom", "anchor": "end", "frame": "group", "font": "DejaVu Sans Mono", "fontSize": 7.5, "fontWeight": "bold", "color": "black", "offset": 15, "dx": 14},
    "layer": [
      {
        "transform": [{"filter": "datum.series == 'Median daily statistic (76 years)'"}],
        "mark": {"type": "point", "filled": false, "fill": "#fff4c8", "size": 95, "strokeWidth": 1.5},
        "encoding": {
          "x": {"field": "date", "type": "temporal", "scale": {"domain": [{"year": 2020, "month": 5, "date": 26}, {"year": 2020, "month": 7, "date": 1}]}, "axis": {"orient": "top", "title": "USGS 06041000 Madison River bl Ennis Lake nr McAllister MT", "titleFontSize": 10.5, "titlePadding": 22, "labels": false, "grid": false}},
          "y": {"field": "value", "type": "quantitative", "scale": {"type": "log", "domain": [500, 7000], "nice": false}, "axis": {"values": [500, 600, 700, 800, 900, 1000, 2000, 3000, 4000, 5000, 6000], "labelExpr": "datum.value == 500 || datum.value == 1000 ? format(datum.value, 'd') : ''", "labelOverlap": false, "labelPadding": 9, "title": "Discharge, cubic feet per secon", "titleFontSize": 13, "titlePadding": 8, "grid": true}},
          "color": {"field": "series", "type": "nominal", "scale": {"domain": ["Median daily statistic (76 years)", "Measured discharge", "Discharge"], "range": ["#d6a526", "#e0101c", "#1c4c85"]}, "legend": {"title": null, "orient": "none", "legendX": -3, "legendY": 482, "columns": 2, "columnPadding": 10, "rowPadding": 8, "symbolSize": 90, "symbolStrokeWidth": 1.7, "labelOffset": 6, "values": ["Median daily statistic (76 years)", "Discharge", "Measured discharge"]}},
          "shape": {"field": "series", "type": "nominal", "scale": {"domain": ["Median daily statistic (76 years)", "Measured discharge", "Discharge"], "range": ["triangle-up", "M0,-1L0,1M-0.87,-0.5L0.87,0.5M-0.87,0.5L0.87,-0.5", "stroke"]}}
        }
      },
      {
        "transform": [{"filter": "datum.series == 'Discharge'"}],
        "mark": {"type": "line", "strokeWidth": 1.8},
        "encoding": {
          "x": {"field": "date", "type": "temporal", "scale": {"domain": [{"year": 2020, "month": 5, "date": 26}, {"year": 2020, "month": 7, "date": 1}]}, "axis": {"orient": "bottom", "values": [{"year": 2020, "month": 5, "date": 30}, {"year": 2020, "month": 6, "date": 6}, {"year": 2020, "month": 6, "date": 13}, {"year": 2020, "month": 6, "date": 20}, {"year": 2020, "month": 6, "date": 27}], "labelExpr": "[timeFormat(datum.value, '%b'), timeFormat(datum.value, '%d'), timeFormat(datum.value, '%Y')]", "labelLineHeight": 20, "labelPadding": 15, "labelOverlap": false, "labelAlign": "center", "title": "---- Provisional Data Subject to Revision ----", "titleColor": "#d0001b", "titleFontSize": 11, "titlePadding": 19, "grid": true}},
          "y": {"field": "value", "type": "quantitative", "scale": {"type": "log", "domain": [500, 7000], "nice": false}, "axis": {"values": [500, 600, 700, 800, 900, 1000, 2000, 3000, 4000, 5000, 6000], "labelExpr": "datum.value == 500 || datum.value == 1000 ? format(datum.value, 'd') : ''", "labelOverlap": false, "labelPadding": 9, "title": "Discharge, cubic feet per secon", "titleFontSize": 13, "titlePadding": 8, "grid": true}},
          "color": {"field": "series", "type": "nominal", "scale": {"domain": ["Median daily statistic (76 years)", "Measured discharge", "Discharge"], "range": ["#d6a526", "#e0101c", "#1c4c85"]}}
        }
      },
      {
        "transform": [{"filter": "datum.series == 'Measured discharge'"}],
        "mark": {"type": "point", "filled": false, "size": 75, "strokeWidth": 2},
        "encoding": {
          "x": {"field": "date", "type": "temporal", "scale": {"domain": [{"year": 2020, "month": 5, "date": 26}, {"year": 2020, "month": 7, "date": 1}]}, "axis": null},
          "y": {"field": "value", "type": "quantitative", "scale": {"type": "log", "domain": [500, 7000], "nice": false}, "axis": {"values": [500, 600, 700, 800, 900, 1000, 2000, 3000, 4000, 5000, 6000], "labelExpr": "datum.value == 500 || datum.value == 1000 ? format(datum.value, 'd') : ''", "labelOverlap": false, "labelPadding": 9, "title": "Discharge, cubic feet per secon", "titleFontSize": 13, "titlePadding": 8, "grid": true}},
          "color": {"field": "series", "type": "nominal", "scale": {"domain": ["Median daily statistic (76 years)", "Measured discharge", "Discharge"], "range": ["#d6a526", "#e0101c", "#1c4c85"]}},
          "shape": {"field": "series", "type": "nominal", "scale": {"domain": ["Median daily statistic (76 years)", "Measured discharge", "Discharge"], "range": ["triangle-up", "M0,-1L0,1M-0.87,-0.5L0.87,0.5M-0.87,0.5L0.87,-0.5", "stroke"]}}
        }
      }
    ],
    "resolve": {"axis": {"x": "independent"}}
  }
]
}
